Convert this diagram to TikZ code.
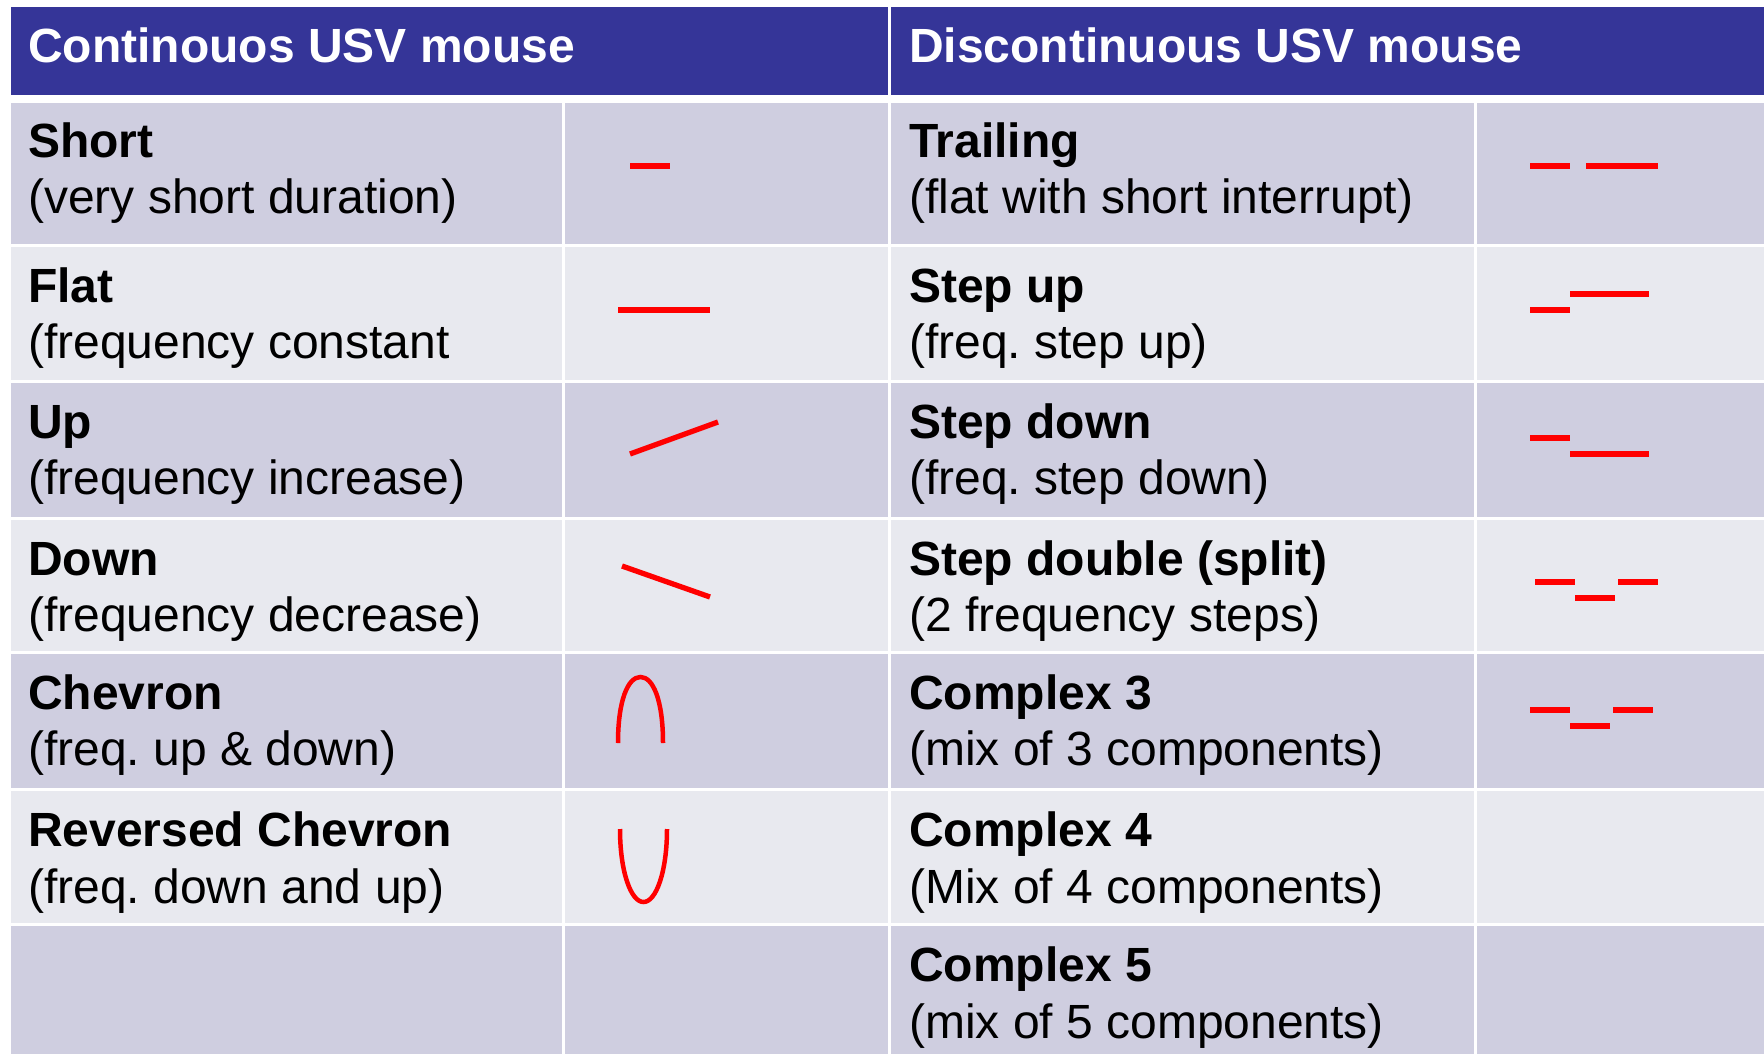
\documentclass[tikz,border=0pt]{standalone}
\usepackage{fontspec}
\setmainfont{Liberation Sans}
\frenchspacing
\definecolor{hdrblue}{HTML}{353598}
\definecolor{rowdark}{HTML}{CFCEE0}
\definecolor{rowlight}{HTML}{E8E9EF}
\definecolor{glyphred}{HTML}{FF0000}
\begin{document}
\begin{tikzpicture}[x=1pt,y=-1pt,
  ttl/.style={anchor=base west, inner sep=0pt, font=\fontsize{48}{56}\selectfont\bfseries},
  dsc/.style={anchor=base west, inner sep=0pt, font=\fontsize{48}{56}\selectfont},
  htxt/.style={anchor=base west, inner sep=0pt, text=white, font=\fontsize{48}{56}\selectfont\bfseries},
  glyph/.style={draw=glyphred, line width=5.3pt},
  arch/.style={draw=glyphred, line width=4.5pt}]
\fill[white] (0,0) rectangle (1764,1054);
\path[use as bounding box] (0,0) rectangle (1764,1054);
% header
\fill[hdrblue] (11,7.5) rectangle (888,95);
\fill[hdrblue] (891,7.5) rectangle (1764,95);
\node[htxt] (h1) at (28,62.5) {Continouos USV mouse};
\node[htxt] (h2) at (909,62.5) {Discontinuous USV mouse};
% rows
\foreach \t/\b/\c in {103/244/rowdark, 247/380/rowlight, 383/517/rowdark, 520/651/rowlight, 654/788/rowdark, 791/923/rowlight, 926/1054/rowdark} {
  \fill[\c] (11,\t) rectangle (562,\b);
  \fill[\c] (565,\t) rectangle (888,\b);
  \fill[\c] (891,\t) rectangle (1474,\b);
  \fill[\c] (1477,\t) rectangle (1764,\b);
}
% left column texts
\node[ttl] (l1a) at (28,157.5) {Short};
\node[dsc] (l1b) at (28,213.5) {(very short duration)};
\node[ttl] (l2a) at (28,302) {Flat};
\node[dsc] (l2b) at (28,358.5) {(frequency constant};
\node[ttl] (l3a) at (28,438) {Up};
\node[dsc] (l3b) at (28,494.5) {(frequency increase)};
\node[ttl] (l4a) at (28,575) {Down};
\node[dsc] (l4b) at (28,631.5) {(frequency decrease)};
\node[ttl] (l5a) at (28,709) {Chevron};
\node[dsc] (l5b) at (28,765.5) {(freq. up \& down)};
\node[ttl] (l6a) at (28,846.5) {Reversed Chevron};
\node[dsc] (l6b) at (28,903) {(freq. down and up)};
% right column texts
\node[ttl] (r1a) at (909,157.5) {Trailing};
\node[dsc] (r1b) at (909,213.5) {(flat with short interrupt)};
\node[ttl] (r2a) at (909,302) {Step up};
\node[dsc] (r2b) at (909,358.5) {(freq. step up)};
\node[ttl] (r3a) at (909,438) {Step down};
\node[dsc] (r3b) at (909,494.5) {(freq. step down)};
\node[ttl] (r4a) at (909,575) {Step double (split)};
\node[dsc] (r4b) at (909,631.5) {(2 frequency steps)};
\node[ttl] (r5a) at (909,709) {Complex 3};
\node[dsc] (r5b) at (909,765.5) {(mix of 3 components)};
\node[ttl] (r6a) at (909,846.5) {Complex 4};
\node[dsc] (r6b) at (909,903) {(Mix of 4 components)};
\node[ttl] (r7a) at (909,981.5) {Complex 5};
\node[dsc] (r7b) at (909,1038) {(mix of 5 components)};
% continuous glyphs
\draw[glyph] (630,166) -- (670,166);
\draw[glyph] (618,310) -- (710,310);
\draw[glyph] (630,454) -- (718,422);
\draw[glyph] (622,566) -- (710,597);
\draw[arch] (618,743) .. controls (618,700) and (628,677) .. (640.5,677) .. controls (653,677) and (663,700) .. (663,743);
\draw[arch] (620,829) .. controls (620,872) and (631,902) .. (643.5,902) .. controls (656,902) and (667,872) .. (667,829);
% discontinuous glyphs
\draw[glyph] (1530,166) -- (1570,166);
\draw[glyph] (1586,166) -- (1658,166);
\draw[glyph] (1530,310) -- (1570,310);
\draw[glyph] (1570,294) -- (1649,294);
\draw[glyph] (1530,438) -- (1570,438);
\draw[glyph] (1570,454) -- (1649,454);
\draw[glyph] (1535,582) -- (1575,582);
\draw[glyph] (1575,598) -- (1615,598);
\draw[glyph] (1618,582) -- (1658,582);
\draw[glyph] (1530,710) -- (1570,710);
\draw[glyph] (1570,726) -- (1610,726);
\draw[glyph] (1613,710) -- (1653,710);
\end{tikzpicture}
\end{document}
